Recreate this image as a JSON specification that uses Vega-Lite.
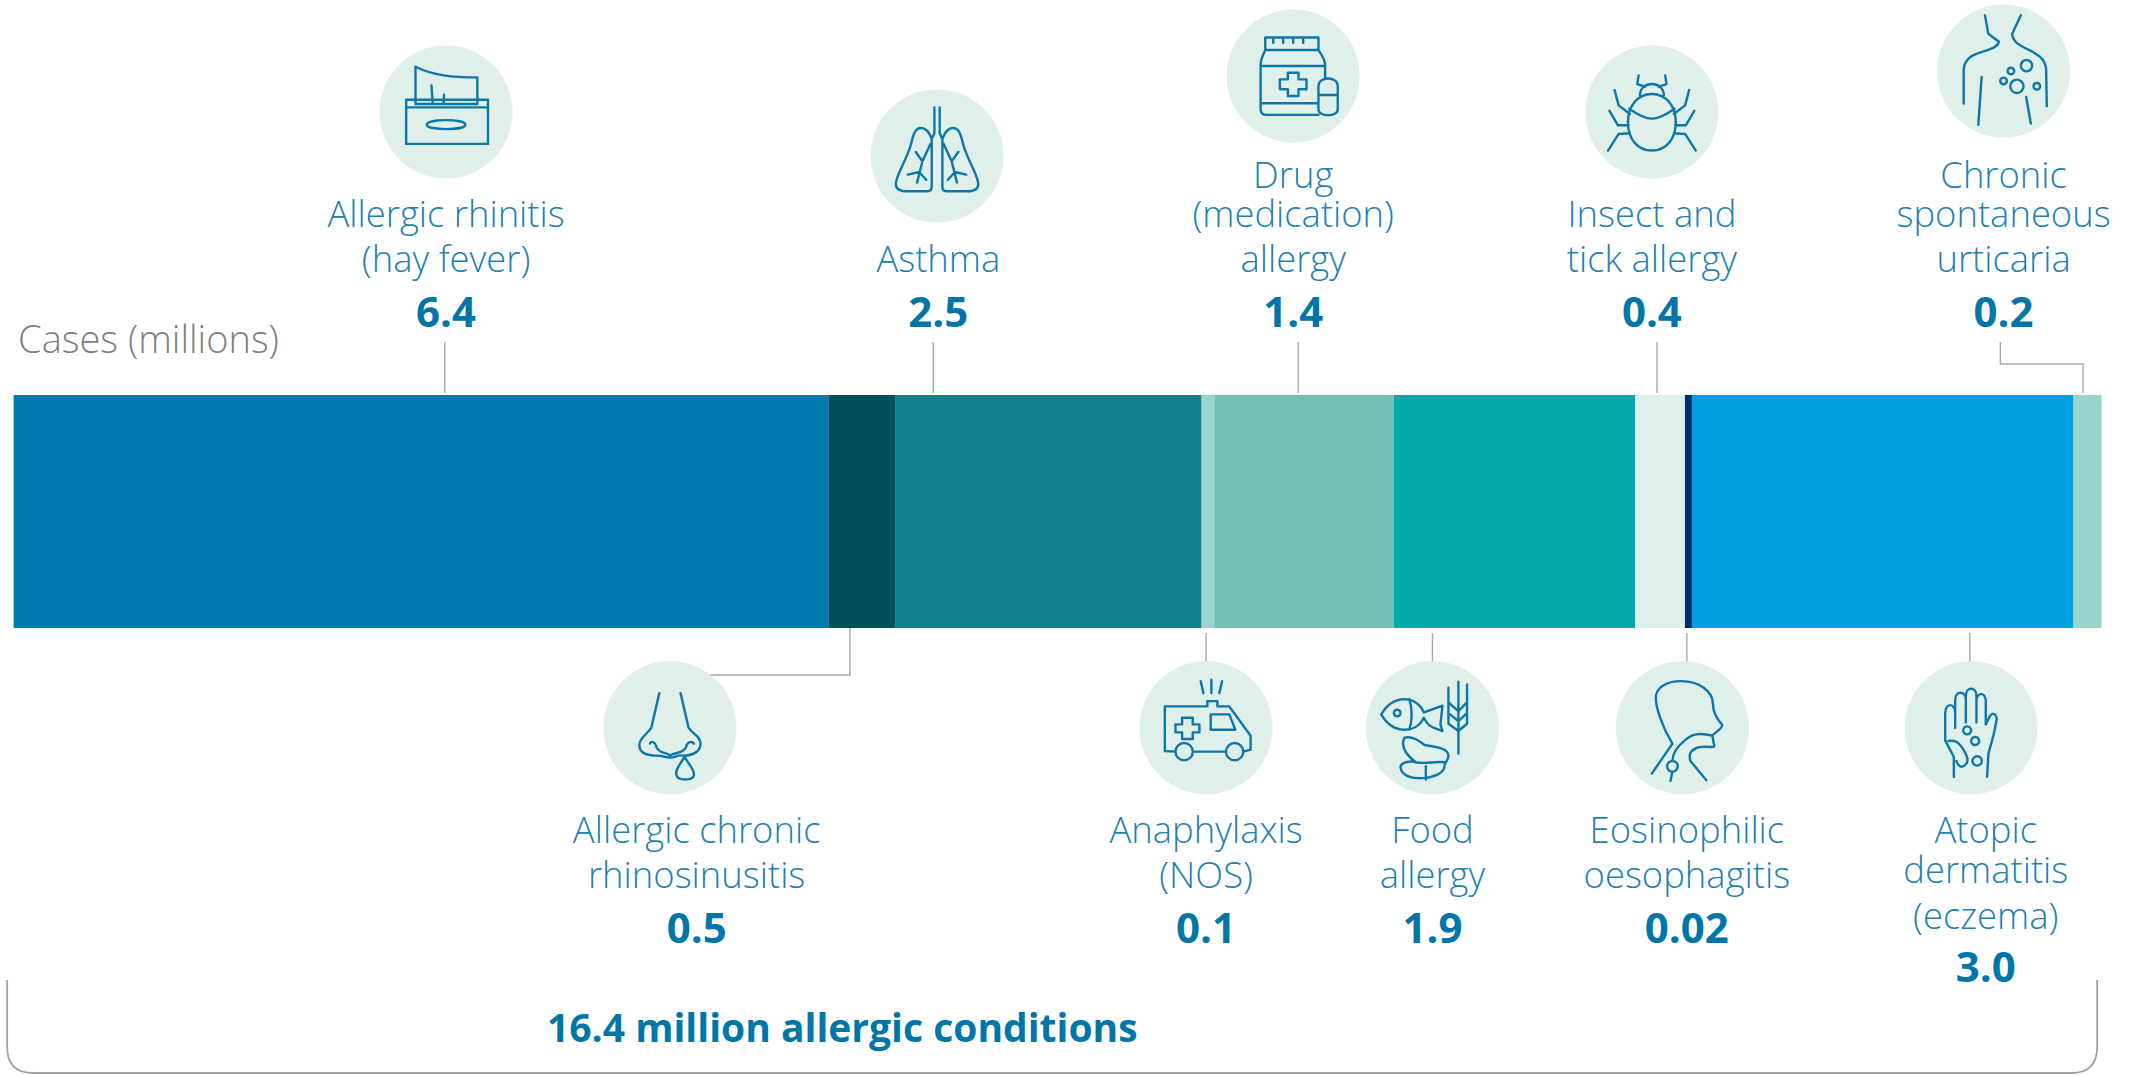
{"$schema":"https://vega.github.io/schema/vega-lite/v6.json","width":2137,"height":1075,"padding":0,"autosize":{"type":"none"},"background":"#ffffff","config":{"view":{"stroke":null}},
"datasets":{
"slots":[{"slot":"name-top-1","level":188},{"slot":"name-top-2","level":227},{"slot":"name-top-3","level":272},{"slot":"value-top","level":327},{"slot":"cases","level":353},{"slot":"name-bottom-1","level":843},{"slot":"name-bottom-2","level":888},{"slot":"value-bottom","level":943},{"slot":"atopic-2","level":883},{"slot":"atopic-3","level":929},{"slot":"atopic-value","level":982},{"slot":"total","level":1042},{"slot":"bracket","level":1026.5},{"slot":"icon-a","level":112},{"slot":"icon-b","level":156},{"slot":"icon-c","level":76},{"slot":"icon-d","level":71},{"slot":"icon-bottom","level":727.7},{"slot":"lead-top-start","level":342},{"slot":"lead-top-end","level":393},{"slot":"lead-elbow-top","level":364},{"slot":"lead-bottom-start","level":633},{"slot":"lead-bottom-end","level":662},{"slot":"bar-bottom","level":628},{"slot":"lead-elbow-bottom","level":675}],
"conditions":[{"condition":"Allergic rhinitis","cases":6.41,"seq":1},{"condition":"Allergic chronic rhinosinusitis","cases":0.52,"seq":2},{"condition":"Asthma","cases":2.41,"seq":3},{"condition":"Anaphylaxis","cases":0.10,"seq":4},{"condition":"Drug allergy","cases":1.41,"seq":5},{"condition":"Food allergy","cases":1.90,"seq":6},{"condition":"Insect and tick allergy","cases":0.39,"seq":7},{"condition":"Eosinophilic oesophagitis","cases":0.055,"seq":8},{"condition":"Atopic dermatitis","cases":3.00,"seq":9},{"condition":"Chronic spontaneous urticaria","cases":0.22,"seq":10}],
"names":[{"text":"Allergic rhinitis","at":3.40,"slot":"name-top-2"},{"text":"(hay fever)","at":3.40,"slot":"name-top-3"},{"text":"Asthma","at":7.27,"slot":"name-top-3"},{"text":"Drug","at":10.06,"slot":"name-top-1"},{"text":"(medication)","at":10.06,"slot":"name-top-2"},{"text":"allergy","at":10.06,"slot":"name-top-3"},{"text":"Insect and","at":12.88,"slot":"name-top-2"},{"text":"tick allergy","at":12.88,"slot":"name-top-3"},{"text":"Chronic","at":15.645,"slot":"name-top-1"},{"text":"spontaneous","at":15.645,"slot":"name-top-2"},{"text":"urticaria","at":15.645,"slot":"name-top-3"},{"text":"Allergic chronic","at":5.37,"slot":"name-bottom-1"},{"text":"rhinosinusitis","at":5.37,"slot":"name-bottom-2"},{"text":"Anaphylaxis","at":9.375,"slot":"name-bottom-1"},{"text":"(NOS)","at":9.375,"slot":"name-bottom-2"},{"text":"Food","at":11.155,"slot":"name-bottom-1"},{"text":"allergy","at":11.155,"slot":"name-bottom-2"},{"text":"Eosinophilic","at":13.155,"slot":"name-bottom-1"},{"text":"oesophagitis","at":13.155,"slot":"name-bottom-2"},{"text":"Atopic","at":15.505,"slot":"name-bottom-1"},{"text":"dermatitis","at":15.505,"slot":"atopic-2"},{"text":"(eczema)","at":15.505,"slot":"atopic-3"}],
"values":[{"text":"6.4","at":3.40,"slot":"value-top"},{"text":"2.5","at":7.27,"slot":"value-top"},{"text":"1.4","at":10.06,"slot":"value-top"},{"text":"0.4","at":12.88,"slot":"value-top"},{"text":"0.2","at":15.645,"slot":"value-top"},{"text":"0.5","at":5.37,"slot":"value-bottom"},{"text":"0.1","at":9.375,"slot":"value-bottom"},{"text":"1.9","at":11.155,"slot":"value-bottom"},{"text":"0.02","at":13.155,"slot":"value-bottom"},{"text":"3.0","at":15.505,"slot":"atopic-value"}],
"icons":[{"condition":"Allergic rhinitis","at":3.40,"slot":"icon-a"},{"condition":"Asthma","at":7.26,"slot":"icon-b"},{"condition":"Drug allergy","at":10.06,"slot":"icon-c"},{"condition":"Insect and tick allergy","at":12.88,"slot":"icon-a"},{"condition":"Chronic spontaneous urticaria","at":15.645,"slot":"icon-d"},{"condition":"Allergic chronic rhinosinusitis","at":5.16,"slot":"icon-bottom"},{"condition":"Anaphylaxis","at":9.375,"slot":"icon-bottom"},{"condition":"Food allergy","at":11.155,"slot":"icon-bottom"},{"condition":"Eosinophilic oesophagitis","at":13.12,"slot":"icon-bottom"},{"condition":"Atopic dermatitis","at":15.39,"slot":"icon-bottom"}],
"leaders":[{"condition":"Allergic rhinitis","at":3.39,"seq":1,"slot":"lead-top-start"},{"condition":"Allergic rhinitis","at":3.39,"seq":2,"slot":"lead-top-end"},{"condition":"Asthma","at":7.23,"seq":1,"slot":"lead-top-start"},{"condition":"Asthma","at":7.23,"seq":2,"slot":"lead-top-end"},{"condition":"Drug allergy","at":10.10,"seq":1,"slot":"lead-top-start"},{"condition":"Drug allergy","at":10.10,"seq":2,"slot":"lead-top-end"},{"condition":"Insect and tick allergy","at":12.92,"seq":1,"slot":"lead-top-start"},{"condition":"Insect and tick allergy","at":12.92,"seq":2,"slot":"lead-top-end"},{"condition":"Chronic spontaneous urticaria","at":15.62,"seq":1,"slot":"lead-top-start"},{"condition":"Chronic spontaneous urticaria","at":15.62,"seq":2,"slot":"lead-elbow-top"},{"condition":"Chronic spontaneous urticaria","at":16.27,"seq":3,"slot":"lead-elbow-top"},{"condition":"Chronic spontaneous urticaria","at":16.27,"seq":4,"slot":"lead-top-end"},{"condition":"Allergic chronic rhinosinusitis","at":6.575,"seq":1,"slot":"bar-bottom"},{"condition":"Allergic chronic rhinosinusitis","at":6.575,"seq":2,"slot":"lead-elbow-bottom"},{"condition":"Allergic chronic rhinosinusitis","at":5.475,"seq":3,"slot":"lead-elbow-bottom"},{"condition":"Anaphylaxis","at":9.375,"seq":1,"slot":"lead-bottom-start"},{"condition":"Anaphylaxis","at":9.375,"seq":2,"slot":"lead-bottom-end"},{"condition":"Food allergy","at":11.155,"seq":1,"slot":"lead-bottom-start"},{"condition":"Food allergy","at":11.155,"seq":2,"slot":"lead-bottom-end"},{"condition":"Eosinophilic oesophagitis","at":13.155,"seq":1,"slot":"lead-bottom-start"},{"condition":"Eosinophilic oesophagitis","at":13.155,"seq":2,"slot":"lead-bottom-end"},{"condition":"Atopic dermatitis","at":15.38,"seq":1,"slot":"lead-bottom-start"},{"condition":"Atopic dermatitis","at":15.38,"seq":2,"slot":"lead-bottom-end"}],
"notes":[{"text":"Cases (millions)","at":0.035,"slot":"cases"}],
"total":[{"text":"16.4 million allergic conditions","at":6.515,"slot":"total"}],
"frame":[{"at":8.165,"slot":"bracket"}]
},
"layer":[
{"data":{"name":"conditions"},"transform":[{"stack":"cases","sort":[{"field":"seq","order":"ascending"}],"as":["start","end"]}],"mark":{"type":"rect"},"encoding":{
"x":{"field":"start","type":"quantitative","axis":null,"scale":{"domain":[-0.107,16.694],"nice":false,"zero":false}},"x2":{"field":"end"},
"y":{"datum":395,"type":"quantitative","axis":null,"scale":{"domain":[0,1075],"reverse":true,"nice":false,"zero":false}},"y2":{"datum":628},
"color":{"field":"condition","type":"nominal","legend":null,"scale":{"domain":["Allergic rhinitis","Allergic chronic rhinosinusitis","Asthma","Anaphylaxis","Drug allergy","Food allergy","Insect and tick allergy","Eosinophilic oesophagitis","Atopic dermatitis","Chronic spontaneous urticaria"],"range":["#047bb0","#00505c","#0f808c","#9bd3cd","#72c2b4","#00aaa9","#dcefe9","#002d72","#00a1e0","#9bd3cd"]}}}},
{"data":{"name":"leaders"},"transform":[{"lookup":"slot","from":{"data":{"name":"slots"},"key":"slot","fields":["level"]}}],"mark":{"type":"line","stroke":"#a8a8a8","strokeWidth":1.4,"interpolate":"linear"},"encoding":{"x":{"field":"at","type":"quantitative"},"y":{"field":"level","type":"quantitative"},"detail":{"field":"condition"},"order":{"field":"seq","type":"quantitative"}}},
{"data":{"name":"icons"},"transform":[{"lookup":"slot","from":{"data":{"name":"slots"},"key":"slot","fields":["level"]}}],"mark":{"type":"point","shape":"circle","filled":true,"fill":"#dfefe9","opacity":1,"size":17689,"strokeWidth":0},"encoding":{"x":{"field":"at","type":"quantitative"},"y":{"field":"level","type":"quantitative"}}},
{"data":{"name":"icons"},"transform":[{"lookup":"slot","from":{"data":{"name":"slots"},"key":"slot","fields":["level"]}}],"mark":{"type":"point","filled":false,"stroke":"#0f76a8","strokeWidth":2.4,"opacity":1,"size":17689,"strokeJoin":"round","strokeCap":"round"},"encoding":{"x":{"field":"at","type":"quantitative"},"y":{"field":"level","type":"quantitative"},"shape":{"field":"condition","type":"nominal","legend":null,"scale":{"domain":["Allergic rhinitis","Asthma","Drug allergy","Insect and tick allergy","Chronic spontaneous urticaria","Allergic chronic rhinosinusitis","Anaphylaxis","Food allergy","Eosinophilic oesophagitis","Atopic dermatitis"],"range":[
"M-0.6 -0.185 L0.63 -0.185 L0.63 0.48 L-0.6 0.48 Z M-0.6 -0.07 L0.63 -0.07 M-0.46 -0.12 L-0.46 -0.68 C-0.2 -0.55 0.1 -0.52 0.47 -0.52 L0.47 -0.12 Z M-0.2 -0.12 L-0.22 -0.4 M-0.04 -0.12 L-0.03 -0.26 M-0.29 0.19 C-0.29 0.1 0.29 0.1 0.29 0.19 C0.29 0.28 -0.29 0.28 -0.29 0.19 Z",
"M-0.04 -0.73 L-0.04 -0.34 L-0.08 -0.26 C-0.12 -0.36 -0.16 -0.42 -0.24 -0.42 C-0.34 -0.42 -0.36 -0.3 -0.4 -0.15 C-0.48 0.1 -0.62 0.3 -0.62 0.42 C-0.62 0.5 -0.55 0.53 -0.45 0.53 L-0.14 0.53 C-0.1 0.53 -0.08 0.5 -0.08 0.46 L-0.08 -0.26 M0.04 -0.73 L0.04 -0.34 L0.08 -0.26 C0.12 -0.36 0.16 -0.42 0.24 -0.42 C0.34 -0.42 0.36 -0.3 0.4 -0.15 C0.48 0.1 0.62 0.3 0.62 0.42 C0.62 0.5 0.55 0.53 0.45 0.53 L0.14 0.53 C0.1 0.53 0.08 0.5 0.08 0.46 L0.08 -0.26 M-0.1 -0.18 L-0.22 0.08 L-0.3 0.4 M-0.22 0.08 L-0.32 -0.06 M-0.22 0.08 L-0.16 -0.05 M-0.27 0.24 L-0.44 0.28 M-0.27 0.24 L-0.16 0.36 M0.1 -0.18 L0.22 0.08 L0.3 0.4 M0.22 0.08 L0.32 -0.06 M0.22 0.08 L0.16 -0.05 M0.27 0.24 L0.44 0.28 M0.27 0.24 L0.16 0.36",
"M-0.42 -0.58 L0.38 -0.58 L0.38 -0.39 L-0.42 -0.39 Z M-0.42 -0.39 C-0.46 -0.3 -0.49 -0.25 -0.49 -0.17 L-0.49 0.5 C-0.49 0.56 -0.45 0.585 -0.4 0.585 L0.38 0.585 M0.38 -0.39 C0.44 -0.3 0.48 -0.25 0.48 -0.17 L0.48 0.02 M-0.49 -0.15 L0.48 -0.15 M-0.49 0.41 L0.38 0.41 M-0.08 -0.05 L0.08 -0.05 L0.08 0.05 L0.2 0.05 L0.2 0.2 L0.08 0.2 L0.08 0.3 L-0.08 0.3 L-0.08 0.2 L-0.2 0.2 L-0.2 0.05 L-0.08 0.05 Z M0.38 0.15 C0.38 0 0.67 0 0.67 0.15 L0.67 0.5 C0.67 0.62 0.38 0.62 0.38 0.5 Z M0.38 0.285 L0.67 0.285 M-0.3 -0.58 L-0.3 -0.5 M-0.15 -0.58 L-0.15 -0.5 M0 -0.58 L0 -0.5 M0.15 -0.58 L0.15 -0.5",
"M0 -0.27 C0.22 -0.27 0.36 -0.08 0.36 0.15 C0.36 0.4 0.22 0.58 0 0.58 C-0.22 0.58 -0.36 0.4 -0.36 0.15 C-0.36 -0.08 -0.22 -0.27 0 -0.27 Z M-0.34 -0.05 C-0.2 0.05 -0.1 0.1 0 0.1 C0.1 0.1 0.2 0.05 0.34 -0.05 M-0.18 -0.25 C-0.18 -0.35 -0.1 -0.42 0 -0.42 C0.1 -0.42 0.18 -0.35 0.18 -0.25 M-0.2 -0.55 L-0.22 -0.42 L-0.1 -0.38 M0.2 -0.55 L0.22 -0.42 L0.1 -0.38 M-0.56 -0.33 L-0.5 -0.1 L-0.33 0.03 M0.56 -0.33 L0.5 -0.1 L0.33 0.03 M-0.64 -0.02 L-0.51 0.2 L-0.35 0.2 M0.64 -0.02 L0.51 0.2 L0.35 0.2 M-0.66 0.58 L-0.5 0.33 L-0.33 0.32 M0.66 0.58 L0.5 0.33 L0.33 0.32",
"M-0.28 -0.84 L-0.23 -0.56 L-0.07 -0.44 C-0.12 -0.25 -0.58 -0.35 -0.6 -0.02 L-0.6 0.49 M0.26 -0.84 L0.13 -0.56 C0.14 -0.3 0.62 -0.35 0.64 -0.02 L0.65 0.53 M-0.33 0.09 L-0.38 0.81 M0.34 0.39 L0.41 0.79 M0.26 -0.08 A0.085 0.085 0 1 1 0.43 -0.08 A0.085 0.085 0 1 1 0.26 -0.08 Z M0.06 0 A0.05 0.05 0 1 1 0.16 0 A0.05 0.05 0 1 1 0.06 0 Z M-0.05 0.15 A0.05 0.05 0 1 1 0.05 0.15 A0.05 0.05 0 1 1 -0.05 0.15 Z M0.1 0.23 A0.1 0.1 0 1 1 0.3 0.23 A0.1 0.1 0 1 1 0.1 0.23 Z M0.45 0.23 A0.05 0.05 0 1 1 0.55 0.23 A0.05 0.05 0 1 1 0.45 0.23 Z",
"M-0.16 -0.52 L-0.28 0 C-0.34 0.1 -0.46 0.15 -0.46 0.26 C-0.46 0.4 -0.3 0.42 -0.2 0.42 C-0.1 0.42 -0.08 0.45 0 0.45 C0.1 0.45 0.1 0.4 0.2 0.42 C0.34 0.42 0.46 0.36 0.46 0.24 C0.46 0.12 0.34 0.1 0.28 0 L0.16 -0.52 M-0.3 0.24 C-0.3 0.2 -0.22 0.2 -0.2 0.3 C-0.14 0.4 -0.06 0.36 0 0.42 M0.36 0.24 C0.34 0.2 0.26 0.2 0.24 0.3 C0.18 0.4 0.08 0.36 0 0.42 M0.22 0.44 C0.1 0.62 0.08 0.66 0.1 0.72 C0.12 0.8 0.34 0.8 0.36 0.72 C0.37 0.66 0.34 0.62 0.22 0.44 Z",
"M-0.62 0.35 L-0.62 -0.32 L0.02 -0.32 L0.02 -0.4 L0.17 -0.4 L0.17 -0.32 L0.35 -0.32 L0.67 0.12 L0.67 0.33 L0.56 0.36 M-0.62 0.35 L-0.46 0.36 M-0.2 0.36 L0.3 0.36 M-0.46 0.36 A0.13 0.13 0 1 1 -0.2 0.36 A0.13 0.13 0 1 1 -0.46 0.36 Z M0.3 0.36 A0.13 0.13 0 1 1 0.56 0.36 A0.13 0.13 0 1 1 0.3 0.36 Z M0.07 -0.2 L0.35 -0.2 L0.44 0.03 L0.07 0.03 Z M-0.36 -0.15 L-0.2 -0.15 L-0.2 -0.05 L-0.1 -0.05 L-0.1 0.07 L-0.2 0.07 L-0.2 0.17 L-0.36 0.17 L-0.36 0.07 L-0.46 0.07 L-0.46 -0.05 L-0.36 -0.05 Z M-0.08 -0.7 L-0.04 -0.52 M0.08 -0.72 L0.08 -0.52 M0.24 -0.7 L0.2 -0.52",
"M-0.77 -0.2 C-0.6 -0.5 -0.25 -0.5 -0.13 -0.23 L0.15 -0.33 L0.12 -0.05 L0.15 0.05 C-0.02 -0.02 -0.05 0 -0.13 -0.15 C-0.25 0.1 -0.6 0.1 -0.77 -0.2 Z M-0.35 -0.43 C-0.3 -0.3 -0.3 -0.1 -0.35 0.03 M-0.58 -0.22 A0.05 0.05 0 1 1 -0.48 -0.22 A0.05 0.05 0 1 1 -0.58 -0.22 Z M0.39 -0.69 L0.39 0.39 M0.24 -0.6 L0.24 -0.38 L0.39 -0.25 L0.52 -0.38 L0.52 -0.65 M0.24 -0.38 L0.24 -0.22 L0.39 -0.1 L0.52 -0.22 L0.52 -0.38 M0.24 -0.22 L0.24 -0.06 L0.39 0.05 L0.52 -0.06 L0.52 -0.22 M-0.42 0.15 C-0.3 0.12 -0.2 0.2 -0.12 0.26 C0 0.28 0.24 0.3 0.24 0.42 C0.24 0.5 0.18 0.52 0.18 0.58 C0.18 0.78 -0.45 0.85 -0.48 0.6 C-0.48 0.5 -0.3 0.5 -0.25 0.52 C-0.35 0.45 -0.5 0.3 -0.42 0.15 Z M-0.25 0.52 C-0.12 0.55 0.05 0.5 0.18 0.52 M-0.1 0.58 L-0.1 0.78",
"M-0.46 0.69 L-0.15 0.24 C-0.3 0 -0.4 -0.3 -0.4 -0.45 C-0.4 -0.6 -0.25 -0.7 -0.02 -0.7 C0.25 -0.7 0.46 -0.55 0.46 -0.35 C0.46 -0.2 0.55 -0.1 0.6 -0.04 C0.6 0.02 0.45 0.1 0.45 0.12 L0.48 0.28 C0.45 0.31 0.3 0.26 0.2 0.31 C0.1 0.36 0.1 0.42 0.12 0.5 L0.36 0.79 M0.45 0.12 C0.3 0.08 0.15 0.08 0.05 0.18 C-0.1 0.3 -0.15 0.4 -0.15 0.5 M-0.23 0.58 A0.08 0.08 0 1 1 -0.07 0.58 A0.08 0.08 0 1 1 -0.23 0.58 Z M-0.15 0.66 L-0.18 0.8",
"M-0.26 0.74 L-0.26 0.44 L-0.39 0.19 L-0.39 -0.22 C-0.39 -0.38 -0.24 -0.38 -0.24 -0.22 L-0.24 -0.42 C-0.24 -0.56 -0.08 -0.56 -0.08 -0.42 L-0.08 -0.48 C-0.08 -0.62 0.08 -0.62 0.08 -0.48 L0.08 -0.4 C0.08 -0.54 0.22 -0.54 0.22 -0.4 L0.22 -0.05 L0.28 -0.17 C0.34 -0.26 0.4 -0.17 0.38 -0.1 L0.34 0.1 L0.26 0.39 L0.24 0.74 M-0.24 -0.22 L-0.24 0 M-0.08 -0.42 L-0.08 -0.08 M0.08 -0.45 L0.08 -0.08 M-0.12 0.04 A0.06 0.06 0 1 1 0 0.04 A0.06 0.06 0 1 1 -0.12 0.04 Z M0 0.2 A0.06 0.06 0 1 1 0.12 0.2 A0.06 0.06 0 1 1 0 0.2 Z M0.02 0.5 A0.07 0.07 0 1 1 0.16 0.5 A0.07 0.07 0 1 1 0.02 0.5 Z M-0.34 0.2 C-0.2 0.18 -0.18 0.25 -0.12 0.32 C-0.08 0.4 -0.02 0.48 -0.08 0.55 C-0.14 0.62 -0.2 0.58 -0.22 0.5"
]}}}},
{"data":{"name":"names"},"transform":[{"lookup":"slot","from":{"data":{"name":"slots"},"key":"slot","fields":["level"]}}],"mark":{"type":"text","font":"Open Sans","fontWeight":300,"fontSize":36.4,"align":"center","baseline":"alphabetic","color":"#1f80b3"},"encoding":{"x":{"field":"at","type":"quantitative"},"y":{"field":"level","type":"quantitative"},"text":{"field":"text"}}},
{"data":{"name":"values"},"transform":[{"lookup":"slot","from":{"data":{"name":"slots"},"key":"slot","fields":["level"]}}],"mark":{"type":"text","font":"Open Sans","fontWeight":700,"fontSize":42,"align":"center","baseline":"alphabetic","color":"#0076a8"},"encoding":{"x":{"field":"at","type":"quantitative"},"y":{"field":"level","type":"quantitative"},"text":{"field":"text"}}},
{"data":{"name":"notes"},"transform":[{"lookup":"slot","from":{"data":{"name":"slots"},"key":"slot","fields":["level"]}}],"mark":{"type":"text","font":"Open Sans","fontWeight":300,"fontSize":38,"align":"left","baseline":"alphabetic","color":"#7f7f7f"},"encoding":{"x":{"field":"at","type":"quantitative"},"y":{"field":"level","type":"quantitative"},"text":{"field":"text"}}},
{"data":{"name":"total"},"transform":[{"lookup":"slot","from":{"data":{"name":"slots"},"key":"slot","fields":["level"]}}],"mark":{"type":"text","font":"Open Sans","fontWeight":700,"fontSize":39,"align":"center","baseline":"alphabetic","color":"#0076a8"},"encoding":{"x":{"field":"at","type":"quantitative"},"y":{"field":"level","type":"quantitative"},"text":{"field":"text"}}},
{"data":{"name":"frame"},"transform":[{"lookup":"slot","from":{"data":{"name":"slots"},"key":"slot","fields":["level"]}}],"mark":{"type":"point","filled":false,"shape":"M-1 -0.0445 L-1 0.0195 Q-1 0.0445 -0.975 0.0445 L0.975 0.0445 Q1 0.0445 1 0.0195 L1 -0.0445","size":4368100,"stroke":"#a0a0a0","strokeWidth":1.8,"opacity":1},"encoding":{"x":{"field":"at","type":"quantitative"},"y":{"field":"level","type":"quantitative"}}}
]}
